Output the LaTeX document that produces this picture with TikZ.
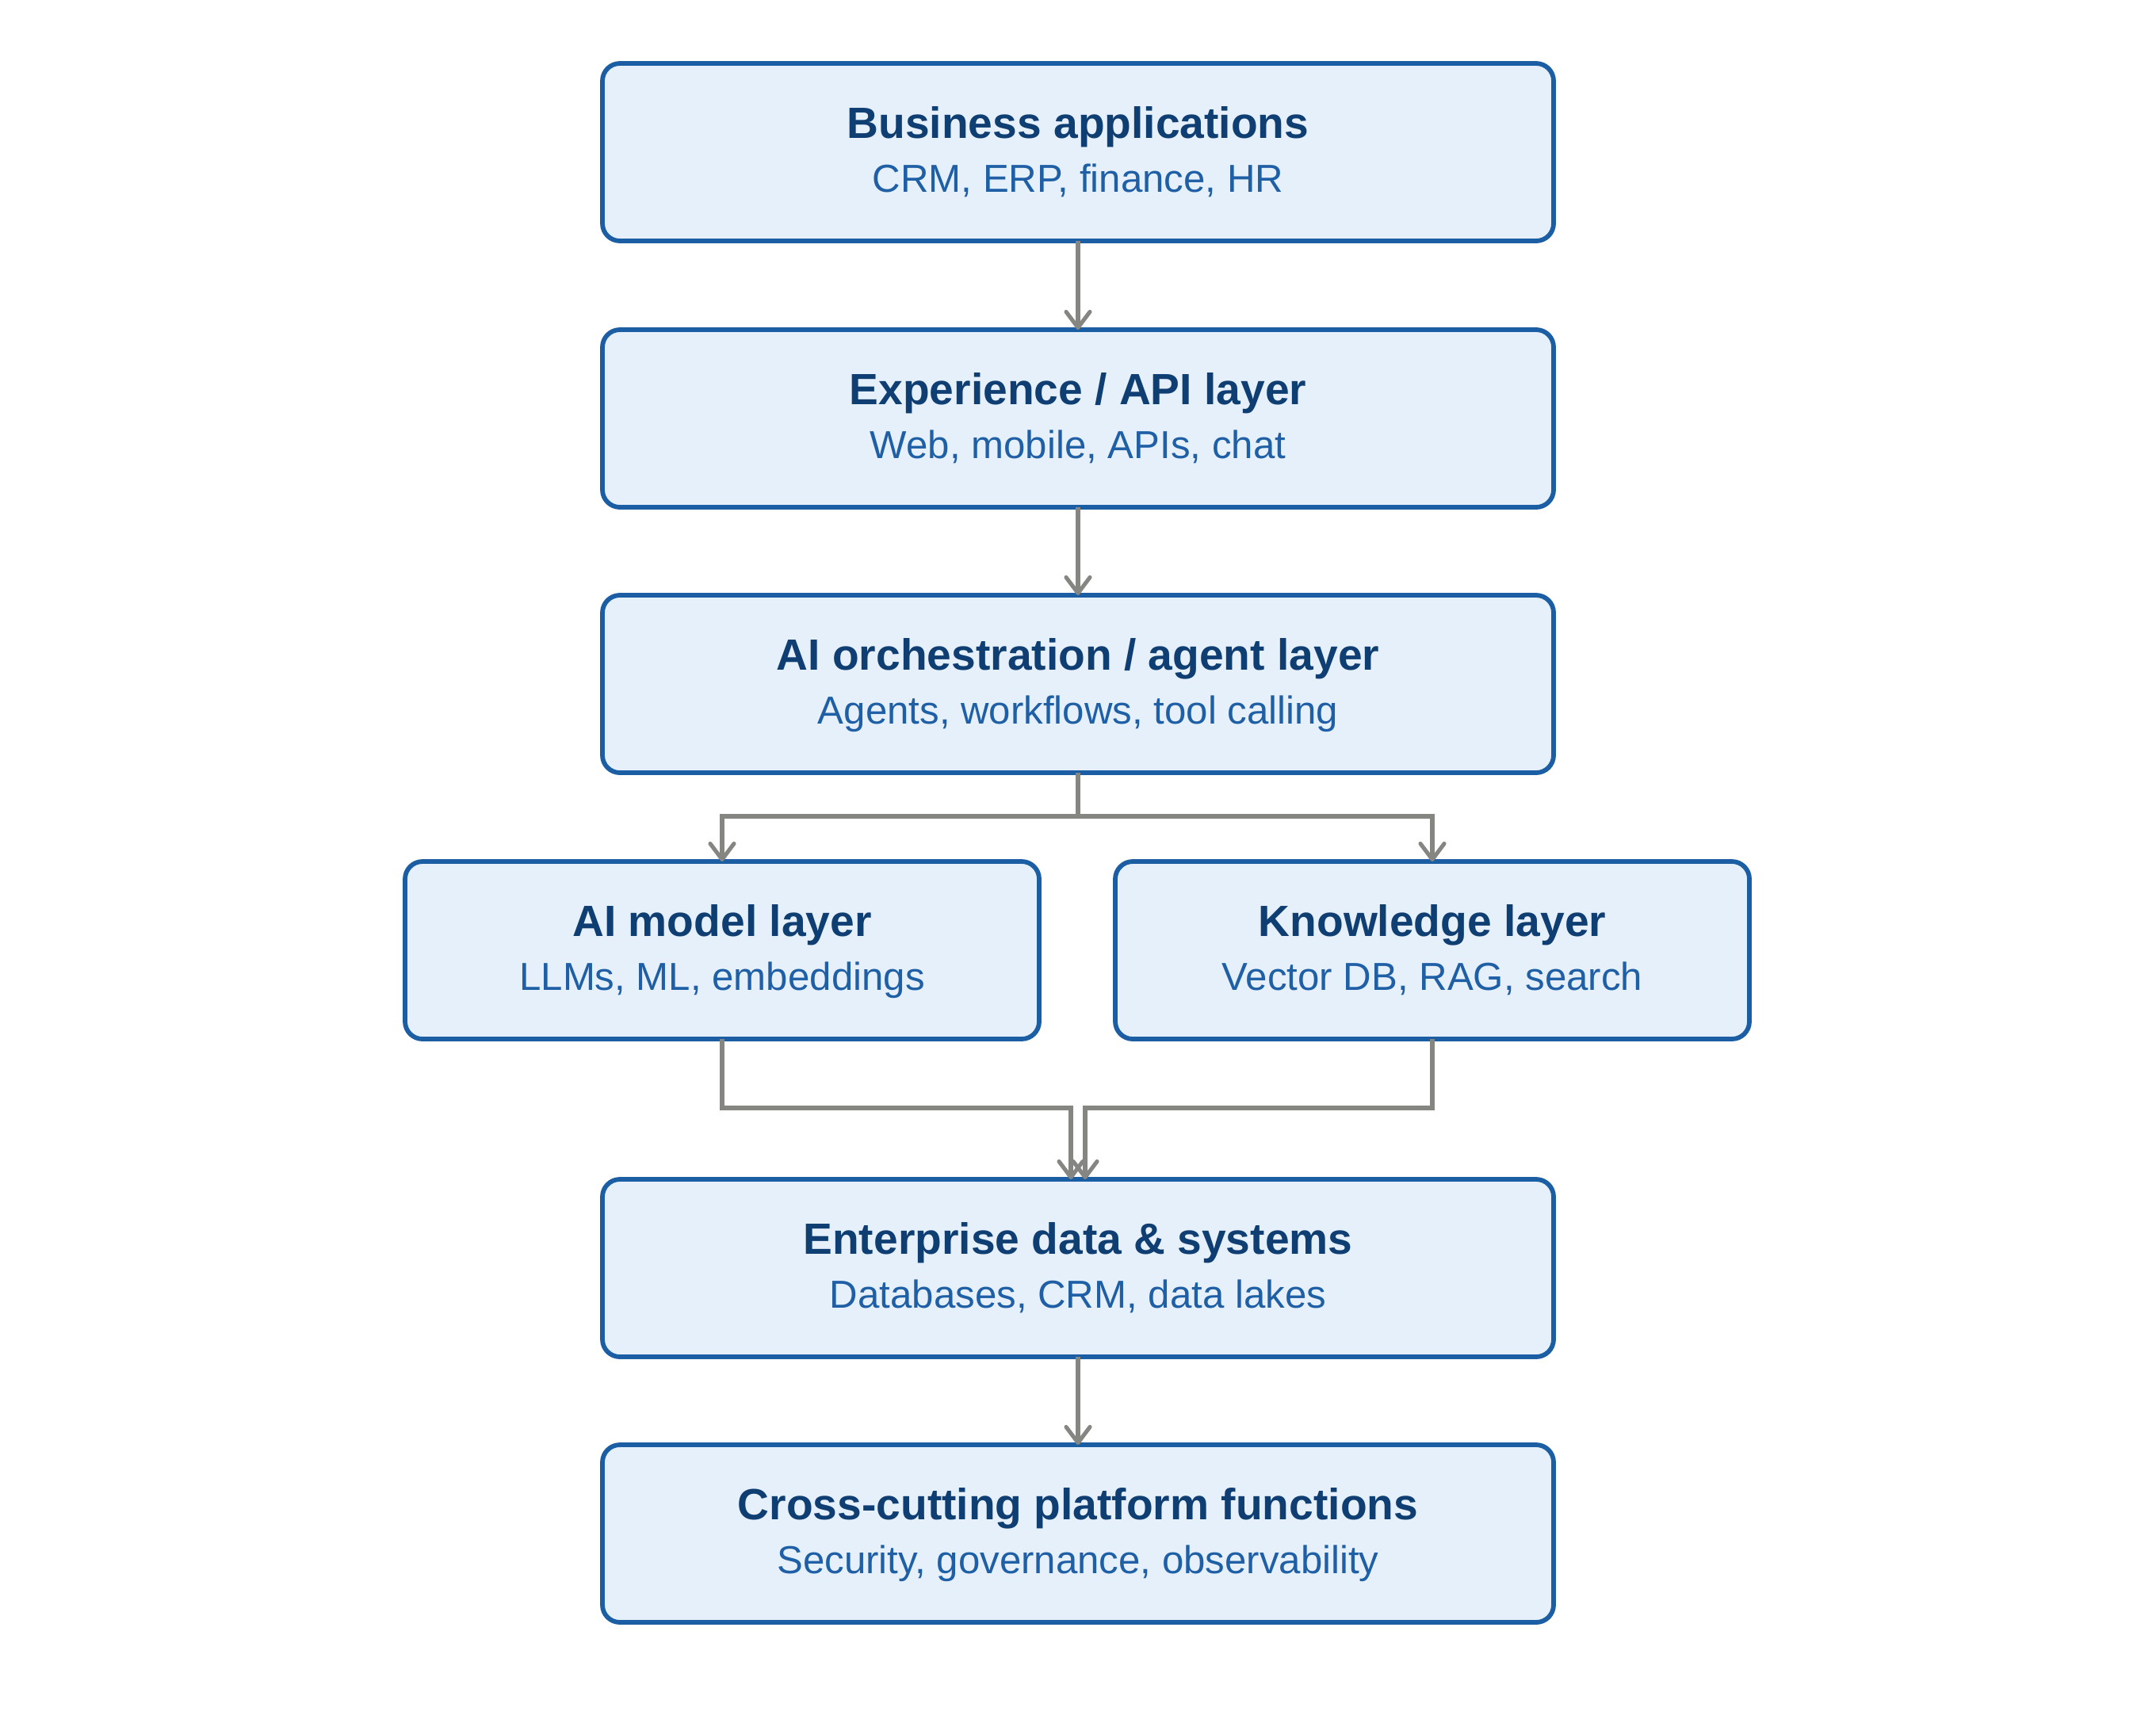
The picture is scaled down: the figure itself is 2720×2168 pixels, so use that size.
\documentclass[tikz,border=0pt]{standalone}
\usepackage{fontspec}
\setmainfont{Liberation Sans}
\usetikzlibrary{arrows.meta}
\definecolor{boxfill}{HTML}{E6F0FA}
\definecolor{boxline}{HTML}{1B5EA4}
\definecolor{titlec}{HTML}{0F3E73}
\definecolor{subc}{HTML}{1E5FA6}
\definecolor{arrowc}{HTML}{858581}
\begin{document}
\begin{tikzpicture}[x=0.1mm,y=-0.1mm,
  layer/.style={draw=boxline, fill=boxfill, line width=1.65pt, rounded corners=2.2mm,
    minimum width=120mm, minimum height=22.4mm, inner sep=0pt, outer sep=0pt},
  sidelayer/.style={layer, minimum width=80mm},
  ttl/.style={anchor=base, inner sep=0pt, text=titlec, font=\fontsize{15.7}{18}\selectfont\bfseries},
  sub/.style={anchor=base, inner sep=0pt, text=subc, font=\fontsize{14}{16}\selectfont},
  arr/.style={draw=arrowc, line width=1.45pt, -{Straight Barb[length=2mm,width=3mm,round]}}
]
\fill[white] (0,0) rectangle (2720,2168);
\useasboundingbox (0,0) rectangle (2720,2168);

\node[layer] (b1) at (1360,192) {};
\node[layer] (b2) at (1360,528) {};
\node[layer] (b3) at (1360,863) {};
\node[sidelayer] (b4) at (911,1199) {};
\node[sidelayer] (b5) at (1807,1199) {};
\node[layer] (b6) at (1360,1600) {};
\node[layer] (b7) at (1360,1935) {};

\node[ttl] (t1) at ([yshift=1.8mm]b1.center) {Business applications};
\node[sub] (s1) at ([yshift=-5.0mm]b1.center) {CRM, ERP, finance, HR};
\node[ttl] (t2) at ([yshift=1.8mm]b2.center) {Experience / API layer};
\node[sub] (s2) at ([yshift=-5.0mm]b2.center) {Web, mobile, APIs, chat};
\node[ttl] (t3) at ([yshift=1.8mm]b3.center) {AI orchestration / agent layer};
\node[sub] (s3) at ([yshift=-5.0mm]b3.center) {Agents, workflows, tool calling};
\node[ttl] (t4) at ([yshift=1.8mm]b4.center) {AI model layer};
\node[sub] (s4) at ([yshift=-5.0mm]b4.center) {LLMs, ML, embeddings};
\node[ttl] (t5) at ([yshift=1.8mm]b5.center) {Knowledge layer};
\node[sub] (s5) at ([yshift=-5.0mm]b5.center) {Vector DB, RAG, search};
\node[ttl] (t6) at ([yshift=1.8mm]b6.center) {Enterprise data \& systems};
\node[sub] (s6) at ([yshift=-5.0mm]b6.center) {Databases, CRM, data lakes};
\node[ttl] (t7) at ([yshift=1.8mm]b7.center) {Cross-cutting platform functions};
\node[sub] (s7) at ([yshift=-5.0mm]b7.center) {Security, governance, observability};

\draw[arr] (b1.south) -- (b2.north);
\draw[arr] (b2.south) -- (b3.north);
\draw[arr] (b3.south) -- ++(0,55) -| (b4.north);
\draw[arr] (b3.south) -- ++(0,55) -| (b5.north);
\draw[arr] (b4.south) -- ++(0,87) -| ([xshift=-0.9mm]b6.north);
\draw[arr] (b5.south) -- ++(0,87) -| ([xshift=0.9mm]b6.north);
\draw[arr] (b6.south) -- (b7.north);
\end{tikzpicture}
\end{document}
